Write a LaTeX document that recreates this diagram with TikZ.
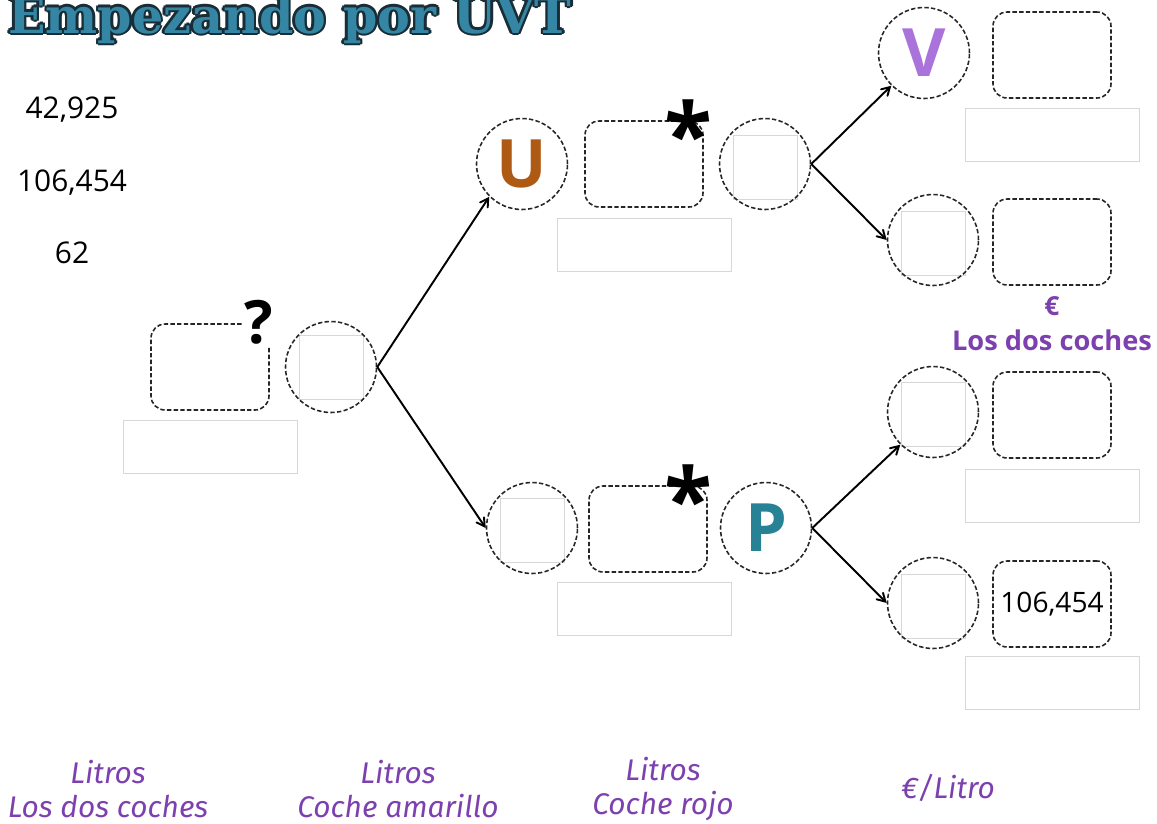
\documentclass[tikz,border=0pt]{standalone}
\usepackage{fontspec}
\setmainfont{Open Sans}
\newfontfamily\titlefont{DejaVu Serif}
\newfontfamily\handfont{Fira Sans}
\usetikzlibrary{shapes,positioning,calc,arrows}
\definecolor{uvtblue}{RGB}{52,134,164}
\definecolor{uvtdark}{RGB}{25,45,55}
\definecolor{litro}{RGB}{125,65,175}
\definecolor{ubrown}{RGB}{175,90,20}
\definecolor{vlila}{RGB}{170,115,220}
\definecolor{pteal}{RGB}{40,130,150}
\definecolor{gbox}{RGB}{215,215,215}

\begin{document}
\begin{tikzpicture}[
    x=0.02cm,
    y=-0.02cm,
    circ/.style={draw=black!85,line width=0.9pt,dash pattern=on 2.5pt off 1.3pt,circle,minimum size=1.82cm,inner sep=0pt},
    rbox/.style={draw=black!85,line width=0.9pt,dash pattern=on 2.5pt off 1.3pt,rounded corners=8pt,minimum width=2.36cm,minimum height=1.72cm},
    grey/.style={draw=gbox,minimum width=3.48cm,minimum height=1.06cm},
    sq/.style={draw=gbox,minimum size=1.28cm},
    lbl/.style={text=litro,align=center,font=\handfont\itshape\fontsize{17}{19}\selectfont},
    num/.style={font=\fontsize{17}{20}\selectfont},
    big/.style={font=\bfseries\fontsize{38}{40}\selectfont},
    starsign/.style={font=\bfseries\fontsize{50}{50}\selectfont,inner sep=0pt},
    arr/.style={->,line width=1.1pt},
    >=angle 60
    ]
    \useasboundingbox (0,0) rectangle (1157,823);

    % title
    \foreach \dx/\dy [count=\i] in {-2.5/0,2.5/0,0/-2.5,0/2.5,-1.8/-1.8,1.8/1.8,-1.8/1.8,1.8/-1.8}
      \node[anchor=base west,text=uvtdark,font=\titlefont\bfseries\fontsize{28}{28}\selectfont] (t\i) at (2+\dx,33+\dy) {Empezando por UVT};
    \node[anchor=base west,text=uvtblue,font=\titlefont\bfseries\fontsize{28}{28}\selectfont] (title) at (2,33) {Empezando por UVT};

    % data
    \node[num] (n1) at (72,110) {42,925};
    \node[num] (n2) at (72,183) {106,454};
    \node[num] (n3) at (72,253) {62};

    % litros los dos coches
    \node[rbox] (b0) at (210,367) {};
    \node[fill=white,font=\bfseries\fontsize{34}{34}\selectfont,inner sep=1pt] (q) at (259,322) {?};
    \node[grey] (g0) at (210,447) {};
    \node[sq] (s0) at (331,367) {};
    \node[circ] (c0) at (331,367) {};

    % coche amarillo
    \node[circ,big,text=ubrown] (cu) at (522,164) {U};
    \node[rbox] (bu) at (644,164) {};
    \node[starsign] (au) at (688,133) {*};
    \node[sq] (s1) at (765,167) {};
    \node[circ] (c1) at (765,164) {};
    \node[grey] (g1) at (644,245) {};

    % coche rojo
    \node[sq] (s2) at (532,530) {};
    \node[circ] (c2) at (532,528) {};
    \node[rbox] (bp) at (648,529) {};
    \node[starsign] (ap) at (688,498) {*};
    \node[circ,big,text=pteal] (cp) at (766,528) {P};
    \node[grey] (g2) at (644,609) {};

    % euro por litro
    \node[circ,big,text=vlila] (cv) at (924,53) {V};
    \node[rbox] (b3) at (1052,55) {};
    \node[grey] (g3) at (1052,135) {};

    \node[sq] (s4) at (933,243) {};
    \node[circ] (c4) at (933,240) {};
    \node[rbox] (b4) at (1052,242) {};
    \node[text=litro,font=\bfseries\fontsize{15}{17}\selectfont] (eu) at (1052,306) {€};
    \node[text=litro,font=\bfseries\fontsize{15.5}{18}\selectfont] (dos) at (1052,340) {Los dos coches};

    \node[sq] (s5) at (933,414) {};
    \node[circ] (c5) at (933,412) {};
    \node[rbox] (b5) at (1052,415) {};
    \node[grey] (g5) at (1052,496) {};

    \node[sq] (s6) at (933,606) {};
    \node[circ] (c6) at (933,603) {};
    \node[rbox,font=\fontsize{16}{18}\selectfont] (b6) at (1052,604) {106,454};
    \node[grey] (g6) at (1052,683) {};

    % arrows
    \draw[arr] (c0.east) -- (cu.south west);
    \draw[arr] (c0.east) -- (c2.west);
    \draw[arr] (c1.east) -- (cv.south west);
    \draw[arr] (c1.east) -- (c4.west);
    \draw[arr] (cp.east) -- (c5.south west);
    \draw[arr] (cp.east) -- (c6.west);

    % bottom labels
    \node[lbl] (l0) at (108,789) {Litros\\Los dos coches};
    \node[lbl] (l1) at (398,789) {Litros\\Coche amarillo};
    \node[lbl] (l2) at (663,789) {Litros\\Coche rojo};
    \node[lbl] (l3) at (948,788) {€/Litro};
\end{tikzpicture}
\end{document}
